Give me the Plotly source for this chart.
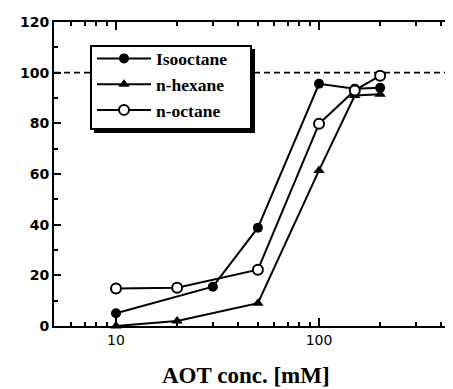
import plotly.graph_objects as go
import math

aot_iso = [10, 30, 50, 100, 150, 200]
val_iso = [5, 15.5, 38.8, 95.6, 93.7, 94]
aot_hex = [10, 20, 50, 100, 150, 200]
val_hex = [0, 2, 9, 61.4, 91, 91.5]
aot_oct = [10, 20, 50, 100, 150, 200]
val_oct = [14.8, 15.1, 22.2, 79.8, 93, 98.8]

x_major = [10, 100]
x_minor = [5, 6, 7, 8, 9, 20, 30, 40, 50, 60, 70, 80, 90, 200, 300, 400]

# page offset of the figure inside the browser window (body margin)
OFF = 8
W, H = 453 - OFF, 389 - OFF
L, R, T, B = 54 - OFF, 453 - OFF, 22 - OFF, 326 - OFF
PW, PH = R - L, B - T

def px(x):
    return (x - OFF - L) / PW

def py(y):
    return 1 - (y - OFF - T) / PH

fig = go.Figure()
common = dict(mode="lines+markers", cliponaxis=False, line=dict(color="black", width=2))
fig.add_trace(go.Scatter(x=aot_iso, y=val_iso, name="Isooctane",
                         marker=dict(symbol="circle", size=10, color="black"), **common))
fig.add_trace(go.Scatter(x=aot_hex, y=val_hex, name="n-hexane",
                         marker=dict(symbol="triangle-up", size=10, color="black"), **common))
fig.add_trace(go.Scatter(x=aot_oct, y=val_oct, name="n-octane",
                         marker=dict(symbol="circle", size=10, color="white",
                                     line=dict(color="black", width=2)), **common))

fig.add_shape(type="line", xref="paper", yref="y", x0=0, x1=1, y0=100, y1=100,
              line=dict(color="black", width=1.8, dash="6px,4px"), layer="below")

# legend box with drop shadow
fig.add_shape(type="rect", xref="paper", yref="paper",
              x0=px(94), x1=px(255), y0=py(133), y1=py(49),
              fillcolor="black", line=dict(width=0), layer="above")
fig.add_shape(type="rect", xref="paper", yref="paper",
              x0=px(91), x1=px(251), y0=py(129), y1=py(46),
              fillcolor="white", line=dict(width=2, color="black"), layer="above")

tickfont = dict(family="DejaVu Sans", size=14, color="black")
fig.update_layout(
    width=W, height=H,
    margin=dict(l=L, r=W - R, t=T, b=H - B, autoexpand=False),
    paper_bgcolor="white", plot_bgcolor="white",
    showlegend=True,
    legend=dict(x=px(92), y=py(40.5), xanchor="left", yanchor="top",
                bgcolor="rgba(0,0,0,0)", borderwidth=0,
                font=dict(family="Liberation Serif", size=17.5, color="black"),
                itemwidth=54, tracegroupgap=0),
    xaxis=dict(type="log", range=[math.log10(4.95), math.log10(457)],
               tickmode="array", tickvals=x_major, ticktext=[str(v) for v in x_major],
               ticks="inside", ticklen=8, tickwidth=2, tickcolor="black",
               minor=dict(tickmode="array", tickvals=x_minor, ticks="inside", ticklen=4,
                          tickwidth=1.5, tickcolor="black"),
               showline=True, linecolor="black", linewidth=2, mirror="allticks",
               showgrid=False, zeroline=False, tickfont=tickfont,
               tickprefix="<b>", ticksuffix="</b>"),
    yaxis=dict(range=[0, 120], tickmode="linear", tick0=0, dtick=20,
               ticks="inside", ticklen=7, tickwidth=2, tickcolor="black",
               minor=dict(dtick=10, ticks="inside", ticklen=4, tickwidth=1.5, tickcolor="black"),
               showline=True, linecolor="black", linewidth=2, mirror="allticks",
               showgrid=False, zeroline=False, tickfont=tickfont,
               tickprefix="<b>", ticksuffix="</b>"),
    annotations=[dict(text="<b>AOT conc. [mM]</b>", xref="paper", yref="paper",
                      x=px(246), y=py(389), xanchor="center", yanchor="bottom",
                      showarrow=False, borderpad=0,
                      font=dict(family="Liberation Serif", size=23, color="black"))],
)
for tr in fig.data:
    tr.name = "<b>" + tr.name + "</b>"

fig.write_html("out.html")
